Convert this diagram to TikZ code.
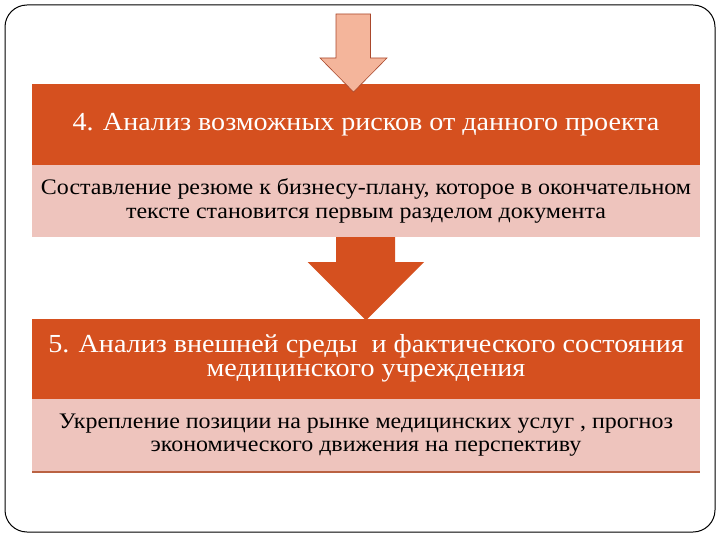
\documentclass[tikz,border=0pt]{standalone}
\usepackage{fontspec}
\setmainfont{Liberation Serif}
\newfontfamily\slidefont[FakeStretch=1.08]{Liberation Serif}
\usetikzlibrary{positioning}

\definecolor{barorange}{HTML}{D5501F}
\definecolor{notepink}{HTML}{EEC4BD}
\definecolor{arrowpink}{HTML}{F4B59B}
\definecolor{arrowedge}{HTML}{A9482C}
\definecolor{footline}{HTML}{BA6242}

\begin{document}
\begin{tikzpicture}[x=1pt,y=-1pt,line width=0.8pt,
  stagebar/.style={fill=barorange,text=white,align=center,outer sep=0pt,inner sep=0pt,
    minimum width=668pt,font=\slidefont\fontsize{26}{24.5}\selectfont},
  notebox/.style={fill=notepink,text=black,align=center,outer sep=0pt,inner sep=0pt,
    minimum width=668pt,font=\slidefont\fontsize{22.2}{23.5}\selectfont}]
  \def\Cx{366}   % середина полос
  \def\Rc{22}    % скругление рамки

  \useasboundingbox (0,0) rectangle (720,540);
  \draw[line width=1pt,rounded corners=\Rc pt] (5,5) rectangle (715,532);

  % ================= этап 4 =================
  \node[stagebar,minimum height=81pt] (stage4) at (\Cx,124.5)
    {4. Анализ возможных рисков от данного проекта};
  \node[notebox,minimum height=72pt,below=0pt of stage4] (note4)
    {Составление резюме к бизнесу-плану, которое в окончательном\\
     тексте становится первым разделом документа};

  % верхняя стрелка
  \filldraw[fill=arrowpink,draw=arrowedge,line width=0.6pt]
    (336,14) -- (370.5,14) -- (370.5,58) -- (387,58) -- (353.5,92)
    -- (320,58) -- (336,58) -- cycle;

  % ================= этап 5 =================
  \node[stagebar,minimum height=80pt] (stage5) at (\Cx,358.5)
    {5. Анализ внешней среды \ и фактического состояния\\
     медицинского учреждения};
  \node[notebox,minimum height=73pt,below=0pt of stage5] (note5)
    {Укрепление позиции на рынке медицинских услуг , прогноз\\
     экономического движения на перспективу};
  \draw[footline,line width=2pt] (note5.south west) -- (note5.south east);

  % стрелка между этапами
  \fill[barorange] (336,237) -- (395,237) -- (395,262) -- (424,262)
    -- (366,320.5) -- (307.5,262) -- (336,262) -- cycle;
\end{tikzpicture}
\end{document}
